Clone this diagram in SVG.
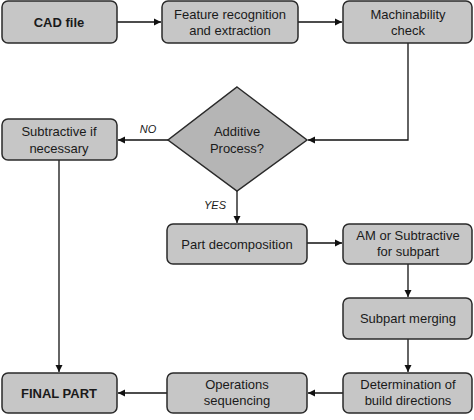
<svg xmlns="http://www.w3.org/2000/svg" width="474" height="420" viewBox="0 0 474 420">
<defs>
<marker id="arr" markerWidth="8" markerHeight="8" refX="7" refY="4" orient="auto" markerUnits="userSpaceOnUse">
<path d="M0,0.5 L7,4 L0,7.5 z" fill="#111"/>
</marker>
<style>
.box{fill:#c6c6c6;stroke:#2a2a2a;stroke-width:1.5}
.dia{fill:#b5b5b5;stroke:#2a2a2a;stroke-width:1.5}
.t{font-family:"Liberation Sans",Arial,sans-serif;font-size:13px;fill:#1a1a1a;text-anchor:middle}
.b{font-weight:bold}
.lbl{font-family:"Liberation Sans",Arial,sans-serif;font-size:11px;font-style:italic;fill:#1a1a1a;text-anchor:middle}
.c{fill:none;stroke:#111;stroke-width:1.3}
</style>
</defs>
<rect width="474" height="420" fill="#fff"/>
<g id="connectors">
<path class="c" d="M117,22 H161" marker-end="url(#arr)"/>
<path class="c" d="M298,22 H342" marker-end="url(#arr)"/>
<path class="c" d="M408,43 V140 H308" marker-end="url(#arr)"/>
<path class="c" d="M168,140 H118" marker-end="url(#arr)"/>
<path class="c" d="M237,191 V223" marker-end="url(#arr)"/>
<path class="c" d="M59,160 V372" marker-end="url(#arr)"/>
<path class="c" d="M307,243 H342" marker-end="url(#arr)"/>
<path class="c" d="M408,264 V297" marker-end="url(#arr)"/>
<path class="c" d="M408,339 V372" marker-end="url(#arr)"/>
<path class="c" d="M343,393 H308" marker-end="url(#arr)"/>
<path class="c" d="M167,393 H118" marker-end="url(#arr)"/>
<text class="lbl" x="148" y="133">NO</text>
<text class="lbl" x="215" y="209">YES</text>
</g>
<g id="cad"><rect class="box" x="2" y="1" width="115" height="42" rx="6"/><text class="t b" x="59" y="27">CAD file</text></g>
<g id="feature"><rect class="box" x="162" y="1" width="136" height="42" rx="6"/><text class="t" x="230" y="19">Feature recognition</text><text class="t" x="230" y="35">and extraction</text></g>
<g id="machinability"><rect class="box" x="343" y="1" width="129" height="42" rx="6"/><text class="t" x="408" y="19">Machinability</text><text class="t" x="408" y="35">check</text></g>
<g id="additive"><polygon class="dia" points="237,87 307,140 237,191 168,140"/><text class="t" x="237" y="136">Additive</text><text class="t" x="237" y="153">Process?</text></g>
<g id="subtractive"><rect class="box" x="2" y="119" width="115" height="41" rx="6"/><text class="t" x="59" y="136">Subtractive if</text><text class="t" x="59" y="153">necessary</text></g>
<g id="decomposition"><rect class="box" x="167" y="224" width="140" height="40" rx="6"/><text class="t" x="237" y="249">Part decomposition</text></g>
<g id="am"><rect class="box" x="343" y="224" width="129" height="40" rx="6"/><text class="t" x="408" y="240">AM or Subtractive</text><text class="t" x="408" y="256">for subpart</text></g>
<g id="merging"><rect class="box" x="343" y="298" width="129" height="41" rx="6"/><text class="t" x="408" y="323">Subpart merging</text></g>
<g id="determination"><rect class="box" x="343" y="373" width="129" height="40" rx="6"/><text class="t" x="408" y="389">Determination of</text><text class="t" x="408" y="405">build directions</text></g>
<g id="sequencing"><rect class="box" x="167" y="373" width="140" height="40" rx="6"/><text class="t" x="237" y="389">Operations</text><text class="t" x="237" y="405">sequencing</text></g>
<g id="final"><rect class="box" x="2" y="373" width="115" height="40" rx="6"/><text class="t b" x="59" y="398">FINAL PART</text></g>
</svg>
